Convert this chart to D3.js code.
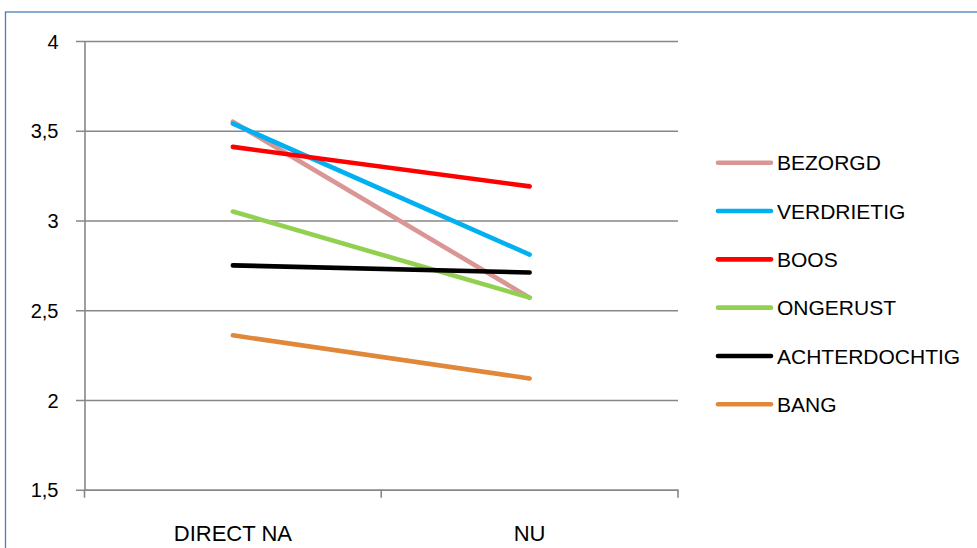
<!DOCTYPE html>
<html>
<head>
<meta charset="utf-8">
<script src="https://cdn.jsdelivr.net/npm/d3@7"></script>
<style>
  html, body { margin: 0; padding: 0; background: #fff; }
  svg { display: block; font-family: "Liberation Sans", Arial, sans-serif; }
</style>
</head>
<body>
<svg id="chart" width="977" height="548"></svg>
<script>
const categories = ["DIRECT NA", "NU"];
const seriesNames = ["BEZORGD", "VERDRIETIG", "BOOS", "ONGERUST", "ACHTERDOCHTIG", "BANG"];
const bezorgd = [3.55, 2.57];
const verdrietig = [3.54, 2.81];
const boos = [3.41, 3.19];
const ongerust = [3.05, 2.57];
const achterdochtig = [2.75, 2.71];
const bang = [2.36, 2.12];
const yTicks = [1.5, 2, 2.5, 3, 3.5, 4];
const colors = ["#D99694", "#00B0F0", "#FF0000", "#92D050", "#000000", "#E0873A"];

(function () {
const seriesValues = [bezorgd, verdrietig, boos, ongerust, achterdochtig, bang];
const series = seriesNames.map((n, i) => ({ name: n, values: seriesValues[i], color: colors[i] }));

const svg = d3.select("#chart");
const fmt = v => String(v).replace(".", ",");

// outer border (extends past the window edges)
svg.append("rect")
  .attr("x", 5.5).attr("y", 12).attr("width", 1000).attr("height", 600)
  .attr("fill", "#fff").attr("stroke", "#4A7EBB").attr("stroke-width", 1.3);

const pLeft = 84.5, pRight = 678, pTop = 41, pBottom = 489.7;
const x = d3.scaleBand().domain(categories).range([pLeft, pRight]);
const y = d3.scaleLinear().domain([1.5, 4]).range([pBottom, pTop]);

const gridColor = "#878787";

// y axis with gridlines
const yAxis = d3.axisLeft(y).tickValues(yTicks).tickFormat(fmt)
  .tickSize(-(pRight - pLeft)).tickSizeOuter(0).tickPadding(0);
const gy = svg.append("g").attr("transform", `translate(${pLeft},0)`).call(yAxis);
gy.select(".domain").attr("stroke", gridColor).attr("stroke-width", 1.6);
gy.selectAll(".tick line").attr("stroke", gridColor).attr("stroke-width", 1.6).attr("x1", -8.5);
gy.selectAll(".tick text")
  .attr("x", -26).attr("dy", "0.36em")
  .attr("fill", "#000").attr("font-size", 20).attr("font-family", "Liberation Sans, Arial, sans-serif");

// x axis
const xAxis = d3.axisBottom(x).tickSize(0).tickPadding(0);
const gx = svg.append("g").attr("transform", `translate(0,${pBottom})`).call(xAxis);
gx.select(".domain").attr("stroke", gridColor).attr("stroke-width", 1.6);
gx.selectAll(".tick text")
  .attr("y", 51).attr("dy", 0)
  .attr("fill", "#000").attr("font-size", 22).attr("font-family", "Liberation Sans, Arial, sans-serif");
// category boundary ticks
const bounds = [pLeft, pLeft + x.bandwidth(), pRight];
svg.append("g").selectAll("line").data(bounds).join("line")
  .attr("x1", d => d).attr("x2", d => d)
  .attr("y1", pBottom).attr("y2", pBottom + 8)
  .attr("stroke", gridColor).attr("stroke-width", 1.6);

// lines
const line = d3.line()
  .x((d, i) => x(categories[i]) + x.bandwidth() / 2)
  .y(d => y(d));
svg.append("g").selectAll("path").data(series).join("path")
  .attr("d", d => line(d.values))
  .attr("fill", "none")
  .attr("stroke", d => d.color)
  .attr("stroke-width", 4.6)
  .attr("stroke-linecap", "round");

// legend
const legend = svg.append("g");
const legY = d3.scalePoint().domain(seriesNames).range([162.7, 404.3]);
const items = legend.selectAll("g").data(series).join("g")
  .attr("transform", d => `translate(0,${legY(d.name)})`);
items.append("line")
  .attr("x1", 718).attr("x2", 771).attr("y1", 0).attr("y2", 0)
  .attr("stroke", d => d.color).attr("stroke-width", 4.6).attr("stroke-linecap", "round");
items.append("text")
  .attr("x", 777).attr("y", 0).attr("dy", "0.36em")
  .attr("font-size", 21).attr("fill", "#000")
  .text(d => d.name);
})();
</script>
</body>
</html>
